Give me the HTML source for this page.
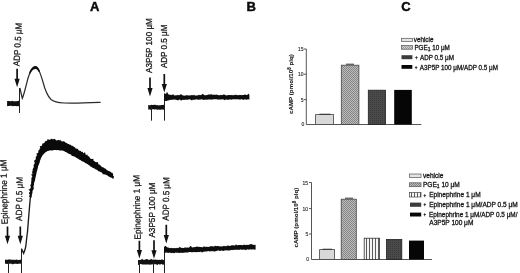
<!DOCTYPE html>
<html><head><meta charset="utf-8">
<style>
html,body{margin:0;padding:0;background:#fff;}
body{width:520px;height:273px;overflow:hidden;}
svg{display:block;}
text{font-family:"Liberation Sans",Arial,sans-serif;}
.lab{font-size:9px;fill:#111;stroke:#111;stroke-width:0.25px;}
.pl{font-size:13px;font-weight:bold;fill:#0a0a0a;stroke:#0a0a0a;stroke-width:0.45px;}
.tk{font-size:5px;fill:#333;stroke:#333;stroke-width:0.15px;}
.lg{font-size:6.3px;fill:#151515;stroke:#151515;stroke-width:0.28px;}
.lg2{font-size:6.55px;fill:#151515;stroke:#151515;stroke-width:0.28px;}
.yl{font-size:6.2px;font-weight:bold;fill:#1a1a1a;stroke:#1a1a1a;stroke-width:0.12px;}
</style></head>
<body>
<svg width="520" height="273" viewBox="0 0 520 273">
<defs>
  <pattern id="xh" width="2" height="2" patternUnits="userSpaceOnUse">
    <rect width="2" height="2" fill="#bcbcbc"/>
    <rect width="1" height="1" fill="#858585"/>
    <rect x="1" y="1" width="1" height="1" fill="#858585"/>
  </pattern>
  <pattern id="xh2" width="2" height="2" patternUnits="userSpaceOnUse">
    <rect width="2" height="2" fill="#d4d4d4"/>
    <rect width="1" height="1" fill="#9a9a9a"/>
    <rect x="1" y="1" width="1" height="1" fill="#9a9a9a"/>
  </pattern>
  <pattern id="vs" width="3" height="4" patternUnits="userSpaceOnUse">
    <rect width="3" height="4" fill="#f4f4f4"/>
    <rect x="0" width="1" height="4" fill="#5a5a5a"/>
  </pattern>
  <pattern id="dk" width="2" height="2" patternUnits="userSpaceOnUse">
    <rect width="2" height="2" fill="#4a4a4a"/>
    <rect width="1" height="1" fill="#3a3a3a"/>
  </pattern>
</defs>

<!-- panel letters -->
<text class="pl" x="89.9" y="10.7">A</text>
<text class="pl" x="246.4" y="10.8">B</text>
<text class="pl" x="401.2" y="10.9">C</text>

<!-- ===== Panel A top ===== -->
<text class="lab" transform="translate(19.6,66.3) rotate(-87.1)" textLength="43.3" lengthAdjust="spacingAndGlyphs">ADP 0.5 μM</text>
<g fill="#111" stroke="none">
  <path d="M16.25 68.8 H17.95 V78.7 H19.70 L17.10 87.3 L14.50 78.7 H16.25 Z"/>
</g>
<path d="M7.1 101.1 L8.14 101.02 L9.18 101.09 L10.22 101.23 L11.27 101.19 L12.31 100.85 L13.35 101.28 L14.39 101.17 L15.43 101.28 L16.48 101.26 L17.52 100.92 L18.56 100.77 L19.6 101.14 L19.6 105.86 L18.56 106.19 L17.52 105.99 L16.48 106.19 L15.43 106.1 L14.39 106.01 L13.35 106.04 L12.31 106.22 L11.27 105.74 L10.22 105.85 L9.18 106.12 L8.14 105.99 L7.1 106.22 Z" fill="#111"/>
<line x1="19.5" y1="88" x2="19.5" y2="113" stroke="#222" stroke-width="1"/>
<path d="M19.9 88 L22.3 98.4 C23.5 96 25 90 26.5 84 C28 77 30 71.5 33 68 C35 66 36.5 66.5 38 68.5 C40 72 41.5 77 43 82 C45 90 47.5 96 51 99.5 C54 102 58 102.6 64 103 C75 103.4 90 102.8 100.6 102.4"
  fill="none" stroke="#2a2a2a" stroke-width="1.2"/>
<path d="M29.2 72.8 C30.4 69 33 66.2 35.5 66.1 C37.4 66.2 38.9 68.5 40 71.6 L38.7 72 C37.7 69.9 36.6 68.9 35.1 69.1 C33.1 69.4 31.2 71.2 30.2 73.8 Z" fill="#111"/>

<!-- ===== Panel A bottom ===== -->
<text class="lab" transform="translate(7.8,224.3) rotate(-91.3)" textLength="64.9" lengthAdjust="spacingAndGlyphs">Epinephrine 1 μM</text>
<text class="lab" transform="translate(21.9,220.9) rotate(-89.1)" textLength="43.9" lengthAdjust="spacingAndGlyphs">ADP 0.5 μM</text>
<g fill="#111">
  <path d="M6.65 226.5 H8.35 V235.7 H10.10 L7.50 244.3 L4.90 235.7 H6.65 Z"/>
  <path d="M19.45 226.5 H21.15 V235.7 H22.90 L20.30 244.3 L17.70 235.7 H19.45 Z"/>
</g>
<path d="M5 259.53 L6.01 259.64 L7.03 259.65 L8.04 259.79 L9.05 259.21 L10.06 259.59 L11.07 259.68 L12.09 259.81 L13.1 259.69 L14.11 259.65 L15.12 259.96 L16.14 259.59 L17.15 259.77 L18.16 260.06 L19.17 259.98 L20.19 259.49 L21.2 260.02 L21.2 264.03 L20.19 263.6 L19.17 263.77 L18.16 263.66 L17.15 264.11 L16.14 263.66 L15.12 263.74 L14.11 263.78 L13.1 264.25 L12.09 264.14 L11.07 263.6 L10.06 263.77 L9.05 263.65 L8.04 263.78 L7.03 264.04 L6.01 263.84 L5 263.86 Z" fill="#111"/>
<line x1="8.5" y1="262" x2="8.5" y2="273" stroke="#222" stroke-width="1"/>
<line x1="21.5" y1="248.7" x2="21.5" y2="273" stroke="#222" stroke-width="1"/>
<path d="M21.5 248.7 L23.6 253.4 C25 250 25.5 248 25.8 246.3 C26.5 240 27 235 27.5 232 C28.3 222 29.2 210 30.4 197"
  fill="none" stroke="#1a1a1a" stroke-width="1.35"/>
<path d="M29.5 196.83 L29.82 197.02 L28.67 195.88 L30.08 195.03 L29.28 193.92 L28.86 192.86 L29.85 191.96 L30.02 190.97 L28.4 189.77 L29.95 188.93 L30.62 188 L30.86 187.01 L30.53 185.96 L30.22 184.91 L31.18 184.01 L31.1 182.98 L31.08 181.96 L31.49 181 L31.24 179.95 L31.5 178.96 L31.34 177.92 L32.05 177 L32.35 176.02 L30.91 174.81 L32.7 174.03 L32.13 172.94 L32.16 171.92 L32.47 170.95 L32.72 169.95 L32.7 168.88 L33.28 167.96 L33.9 167.05 L33.57 165.92 L33.64 164.88 L34.28 163.98 L34.86 163.06 L34.45 161.91 L33.92 160.73 L35.2 159.97 L35.83 159.06 L35.74 157.92 L35.82 156.83 L36.67 156 L36.93 154.97 L36.33 153.38 L38.05 152.89 L38.33 151.71 L38.25 150.49 L39.43 150.01 L39.43 148.85 L40.31 148.18 L39.73 146.32 L41.46 146.12 L42.12 145.16 L42.2 143.79 L43.49 143.34 L44.6 142.77 L44.84 141.58 L45.91 141.04 L47.01 140.63 L47.72 138.9 L48.99 139.74 L50.02 139.86 L50.93 138.91 L52.03 138.75 L53.01 139.61 L54.17 138.84 L55.11 139.36 L55.98 140.3 L56.96 140.58 L58.15 139.84 L59.11 140.38 L60.35 139.75 L61.06 141.08 L62.01 141.54 L63.13 141.36 L64.15 141.59 L65.2 141.92 L65.88 142.95 L67.08 142.92 L67.72 143.91 L68.83 144.05 L69.62 144.76 L70.79 144.8 L71.4 145.83 L72.57 145.87 L73.34 146.61 L74.35 146.92 L75.19 147.59 L75.8 148.66 L77.15 148.57 L77.98 149.29 L78.58 150.35 L79.57 150.82 L80.82 150.88 L81.43 151.94 L82.83 151.78 L83.11 153.33 L85.09 152.28 L85.39 153.84 L85.87 154.97 L87.45 154.57 L87.71 155.96 L88.71 156.36 L89.51 157.02 L89.96 158.16 L90.84 158.71 L91.84 159.1 L93.41 158.72 L93.37 160.51 L94.34 160.95 L95.08 161.69 L95.96 162.23 L97.34 162.07 L98.19 162.64 L98.27 164.29 L99.42 164.45 L100.02 165.37 L100.99 165.79 L101.56 166.74 L102.48 167.23 L103.61 167.41 L104.32 168.18 L105.34 168.49 L106.03 169.27 L106.83 169.9 L107.66 170.49 L108.53 171.01 L109.5 171.37 L110.49 171.71 L111.18 172.6 L112.62 173.07 L113.13 174.18 L113.01 175.78 L113.9 176.11 L113.6 178.7 L112.5 178.44 L111.7 177.64 L110.6 177.46 L109.66 176.97 L108.68 176.56 L107.9 175.74 L106.93 175.3 L105.97 174.83 L104.96 174.47 L103.97 174.14 L102.79 174.14 L102.29 172.89 L101.4 172.36 L100.41 172.02 L99.54 171.46 L98.54 171.14 L97.73 170.47 L96.88 169.86 L95.9 169.5 L95.01 168.99 L94.15 168.33 L93.09 167.97 L92.17 167.42 L91.34 166.71 L90.27 166.38 L89.57 165.48 L88.64 164.92 L87.74 164.33 L86.88 163.67 L85.84 163.28 L84.88 162.79 L84.16 161.95 L83.08 161.71 L82.19 161.16 L81.23 160.72 L80.44 160 L79.4 159.68 L78.54 159.08 L77.65 158.51 L76.69 158.07 L75.86 157.42 L75.03 156.74 L73.96 156.49 L72.98 156.06 L71.77 156.08 L71.27 154.74 L70.29 154.32 L69.22 154.06 L68.33 153.46 L67.42 152.91 L66.55 152.28 L65.48 152.07 L64.43 151.28 L63.25 150.8 L62.01 150.46 L60.98 150.39 L59.9 150.58 L58.97 150.23 L58 150.05 L57.01 150.28 L56 150.05 L55 150.08 L53.85 150.08 L52.72 150.39 L51.57 150.57 L50.39 150.34 L49.25 150.87 L47.98 150.83 L46.91 151.38 L45.89 151.95 L44.38 153.2 L43.61 154.22 L42.59 155.06 L42.27 156.12 L41.61 157.03 L41 157.96 L40.69 159.04 L40.37 160.04 L39.77 160.96 L39.94 162.14 L39.3 163.03 L39.14 164.06 L38.64 165 L38.23 165.97 L37.97 166.98 L37.89 168.03 L37.48 169 L37.33 170.03 L37.05 171.02 L36.64 171.98 L36.42 172.98 L36.45 174.04 L35.96 174.98 L36.02 176.04 L35.51 176.98 L35.51 178.03 L35.08 178.99 L35.17 180.06 L34.75 181.01 L34.45 182 L34.11 182.97 L33.91 183.98 L34.04 185.05 L33.49 185.98 L33.56 187.03 L33.69 188.1 L33.75 189.15 L32.76 189.99 L32.71 191.02 L32.34 191.99 L32.54 193.07 L32.05 194.01 L31.77 194.99 L31.89 196.06 L31.58 197.04 L31.2 197.94 Z" fill="#0a0a0a"/>

<!-- ===== Panel B top ===== -->
<text class="lab" transform="translate(152.2,72.9) rotate(-90)" textLength="54.8" lengthAdjust="spacingAndGlyphs">A3P5P 100 μM</text>
<text class="lab" transform="translate(166.7,68.1) rotate(-90)" textLength="43.5" lengthAdjust="spacingAndGlyphs">ADP 0.5 μM</text>
<g fill="#111">
  <path d="M149.15 77.5 H150.85 V87.9 H152.60 L150.00 96.5 L147.40 87.9 H149.15 Z"/>
  <path d="M163.45 74 H165.15 V83.9 H166.90 L164.30 92.5 L161.70 83.9 H163.45 Z"/>
</g>
<path d="M148.2 105.08 L149.22 105.24 L150.25 105.16 L151.27 104.86 L152.3 105.09 L153.32 105.03 L154.35 104.85 L155.38 104.84 L156.4 105.14 L157.42 105.11 L158.45 105.38 L159.47 105.2 L160.5 105.19 L161.53 105.11 L162.55 104.96 L163.57 104.79 L164.6 105.34 L164.6 109.29 L163.57 109.68 L162.55 109.59 L161.53 109.56 L160.5 109.65 L159.47 109.68 L158.45 109.61 L157.42 109.68 L156.4 109.62 L155.38 109.22 L154.35 109.61 L153.32 109.21 L152.3 109.28 L151.27 109.72 L150.25 109.77 L149.22 109.21 L148.2 109.69 Z" fill="#111"/>
<line x1="151.5" y1="107" x2="151.5" y2="120.7" stroke="#222" stroke-width="1"/>
<line x1="164.5" y1="95" x2="164.5" y2="120.7" stroke="#222" stroke-width="1"/>
<path d="M164 93.32 L165 93.57 L166 93.89 L167 91.72 L168 93.84 L169 94.7 L170 94.81 L171 94.85 L172 95.18 L173 94.11 L174 95.35 L175 95.41 L176 95.21 L177 95.35 L178 94.95 L179 95.19 L180 94.95 L181 93.83 L182 95.34 L183 95.17 L184 95.66 L185 95.58 L186 95.39 L187 95.05 L188 95.44 L189 95.4 L190 95.31 L191 95.49 L192 94.86 L193 95.43 L194 94.76 L195 95.47 L196 95.5 L197 95.49 L198 95.34 L199 94.8 L200 95.19 L201 95.09 L202 94.45 L203 93.65 L204 94.97 L205 95.31 L206 95.27 L207 95.1 L208 94.75 L209 94.16 L210 94.69 L211 94.02 L212 94.64 L213 94.69 L214 94.54 L215 94.95 L216 94.59 L217 94.83 L218 94.98 L219 95.32 L220 95.14 L221 94.81 L222 95.25 L223 94.84 L224 94.22 L225 94.9 L226 95.21 L227 95.4 L228 95.03 L229 94.89 L230 95.04 L231 95.22 L232 94.83 L233 95.39 L234 94.83 L235 95.17 L236 94.6 L237 95.34 L238 95.01 L239 95.18 L240 94.72 L241.04 95.16 L242.09 95.06 L243.13 95.11 L244.18 94.66 L245.22 94.48 L246.27 95.12 L247.31 94.91 L248.36 93.53 L249.4 95.06 L249.4 99.7 L248.36 99.3 L247.31 99.42 L246.27 99.7 L245.22 99.24 L244.18 99.54 L243.13 99.97 L242.09 99.35 L241.04 99.13 L240 99.66 L239 99.32 L238 99.57 L237 99.11 L236 99.56 L235 99.28 L234 99.2 L233 99.25 L232 99.52 L231 99.76 L230 99.28 L229 99.71 L228 99.75 L227 99.78 L226 99.18 L225 100.3 L224 99.67 L223 99.17 L222 99.56 L221 99.26 L220 99.79 L219 99.33 L218 99.72 L217 99.27 L216 99.24 L215 99.36 L214 99.31 L213 99.18 L212 99.69 L211 99.57 L210 99.39 L209 99.42 L208 99.47 L207 99.72 L206 99.76 L205 99.38 L204 99.96 L203 99.7 L202 99.24 L201 99.44 L200 99.43 L199 99.75 L198 99.74 L197 99.36 L196 99.59 L195 99.43 L194 99.93 L193 99.6 L192 100.45 L191 99.93 L190 99.3 L189 99.53 L188 99.5 L187 100 L186 99.58 L185 99.87 L184 100 L183 99.78 L182 99.95 L181 100.66 L180 99.54 L179 99.69 L178 100.45 L177 100.05 L176 99.65 L175 99.61 L174 99.8 L173 99.58 L172 99.83 L171 99.93 L170 99.76 L169 100.46 L168 100.23 L167 100.9 L166 101.02 L165 100.68 L164 100.88 Z" fill="#0d0d0d"/>

<!-- ===== Panel B bottom ===== -->
<text class="lab" transform="translate(140.8,239.6) rotate(-91.2)" textLength="64.8" lengthAdjust="spacingAndGlyphs">Epinephrine 1 μM</text>
<text class="lab" transform="translate(154.7,237.6) rotate(-90)" textLength="55" lengthAdjust="spacingAndGlyphs">A3P5P 100 μM</text>
<text class="lab" transform="translate(168.8,220.7) rotate(-89.2)" textLength="43.4" lengthAdjust="spacingAndGlyphs">ADP 0.5 μM</text>
<g fill="#111">
  <path d="M138.55 240.8 H140.25 V249.9 H142.00 L139.40 258.5 L136.80 249.9 H138.55 Z"/>
  <path d="M153.15 240.2 H154.85 V250.2 H156.60 L154.00 258.8 L151.40 250.2 H153.15 Z"/>
  <path d="M165.45 224.8 H167.15 V235.0 H168.90 L166.30 243.6 L163.70 235.0 H165.45 Z"/>
</g>
<path d="M138 259.99 L139.02 260.04 L140.03 259.99 L141.05 259.77 L142.06 258.83 L143.08 259.79 L144.09 259.66 L145.11 259.84 L146.12 258.88 L147.14 259.1 L148.15 259.65 L149.17 259.87 L150.18 259.76 L151.2 258.87 L152.22 259.69 L153.23 259.54 L154.25 259.78 L155.26 259.59 L156.28 259.81 L157.29 259.73 L158.31 259.9 L159.32 259.83 L160.34 259.91 L161.35 259.47 L162.37 259.58 L163.38 259.88 L164.4 259.71 L164.4 264.28 L163.38 264.64 L162.37 264.39 L161.35 264.03 L160.34 264.6 L159.32 264.53 L158.31 264.04 L157.29 265.17 L156.28 264.29 L155.26 264.29 L154.25 264.18 L153.23 264.52 L152.22 264.25 L151.2 264.6 L150.18 264.81 L149.17 264.5 L148.15 264.44 L147.14 264.45 L146.12 264.46 L145.11 264.41 L144.09 264.59 L143.08 264.43 L142.06 264.6 L141.05 264.02 L140.03 264.05 L139.02 264.58 L138 265.16 Z" fill="#111"/>
<line x1="139.5" y1="262" x2="139.5" y2="273" stroke="#222" stroke-width="1"/>
<line x1="153.5" y1="262" x2="153.5" y2="273" stroke="#222" stroke-width="1"/>
<line x1="164.5" y1="247" x2="164.5" y2="273" stroke="#222" stroke-width="1"/>
<path d="M164 247.07 L165.5 245.65 L167 247.29 L168 247.54 L169 247.73 L170 248.31 L171 247.85 L172 248.29 L173 248.09 L174 248.29 L175 248.02 L176 248.3 L177 247.72 L178 248.15 L179 247.53 L180 246.71 L181 247.88 L182 247.66 L183 247.98 L184 247.89 L185 247.37 L186 247.83 L187 247.61 L188 247.57 L189 247.63 L190 246.25 L191 246.07 L192 247.58 L193 247.2 L194 247.33 L195 247.07 L196 246.98 L197 246.24 L198 247.05 L199 246.81 L200 247.02 L201 246.98 L202 247.21 L203 247.21 L204 245.96 L205 247.16 L206 246.58 L207 247.1 L208 246.81 L209 246.96 L210 246.25 L211 246.35 L212 246.18 L213 246.16 L214 246.73 L215 245.45 L216 246.19 L217 246.03 L218 246.04 L219 246.23 L220 246.41 L221 246.13 L222 246.44 L223 246.3 L224 245.85 L225 246.19 L226 246.18 L227 245.73 L228 245.5 L229 245.67 L230 245.99 L231 245.54 L232 245.36 L233 245.16 L234 245.59 L235 245.48 L236 244.15 L237 245.52 L238 244.91 L239 245.11 L240 245.08 L241 245.05 L242 245.08 L243 245.32 L244 244.5 L245 245.05 L246 244.98 L247 244.75 L248 244.98 L249 244.71 L250 244.3 L251.12 244.03 L252.24 244.39 L253.36 244.77 L254.48 245.09 L255.6 244.69 L255.6 249.62 L254.48 249.67 L253.36 249.29 L252.24 249.49 L251.12 249.55 L250 249.32 L249 249.66 L248 249.43 L247 249.3 L246 250.23 L245 249.82 L244 249.52 L243 249.72 L242 249.81 L241 249.42 L240 249.48 L239 249.94 L238 249.7 L237 249.73 L236 249.84 L235 249.78 L234 250.04 L233 249.75 L232 250.33 L231 249.85 L230 250.47 L229 250.55 L228 250.38 L227 250.29 L226 250.41 L225 250.17 L224 250.8 L223 250.92 L222 250.56 L221 250.55 L220 251.18 L219 250.59 L218 250.57 L217 250.75 L216 251.18 L215 251.22 L214 251.67 L213 250.82 L212 251.44 L211 250.9 L210 251.47 L209 251.2 L208 251.05 L207 251.54 L206 251.58 L205 251.58 L204 251.85 L203 251.73 L202 252.67 L201 251.57 L200 251.91 L199 252.05 L198 252.09 L197 252.24 L196 252.08 L195 252.29 L194 251.93 L193 251.98 L192 252.46 L191 252.02 L190 251.91 L189 252.11 L188 252.47 L187 252.45 L186 252.45 L185 252.39 L184 252.83 L183 252.8 L182 253.02 L181 252.52 L180 252.92 L179 252.96 L178 252.48 L177 253.07 L176 252.59 L175 252.82 L174 253.17 L173 252.95 L172 252.74 L171 253.26 L170 252.61 L169 252.64 L168 252.88 L167 252.56 L166 252.62 L165 253.03 L164 252.75 Z" fill="#0d0d0d"/>

<!-- ===== Panel C top chart ===== -->
<text class="yl" transform="translate(293.0,114.0) rotate(-90)">cAMP (pmol/10<tspan dy="-2" font-size="4.5">8</tspan><tspan dy="2"> plq)</tspan></text>
<g stroke="#555" stroke-width="1" fill="none">
  <path d="M306.3 49 V124.5 H421.3"/>
  <path d="M303.8 49 H306.3 M303.8 74.2 H306.3 M303.8 99.6 H306.3"/>
</g>
<g class="tk">
  <text class="tk" x="298" y="51">15</text>
  <text class="tk" x="298" y="76.2">10</text>
  <text class="tk" x="300.7" y="101.6">5</text>
  <text class="tk" x="301.5" y="126.4">0</text>
</g>
<rect x="315.6" y="114.6" width="18" height="9.9" fill="#d8d8d8" stroke="#444" stroke-width="0.8"/>
<line x1="319.5" y1="114.2" x2="330.5" y2="114.2" stroke="#222" stroke-width="0.8"/>
<rect x="341.3" y="65.2" width="17.6" height="59.3" fill="url(#xh)" stroke="#444" stroke-width="0.8"/>
<line x1="346" y1="64.2" x2="354" y2="64.2" stroke="#333" stroke-width="1"/>
<rect x="368.3" y="90.2" width="17.2" height="34.3" fill="url(#dk)" stroke="#222" stroke-width="0.8"/>
<rect x="394.2" y="89.9" width="17.6" height="34.6" fill="#060606"/>

<!-- legend top -->
<rect x="401.6" y="38.3" width="10.8" height="3.2" fill="#e4e4e4" stroke="#555" stroke-width="0.7"/>
<rect x="401.6" y="45.6" width="10.8" height="3.6" fill="url(#xh2)" stroke="#555" stroke-width="0.7"/>
<rect x="401.5" y="55.2" width="10.9" height="4" fill="#3c3c3c"/>
<rect x="401.5" y="65" width="10.8" height="3.8" fill="#060606"/>
<text class="lg" x="413.8" y="41.9">vehicle</text>
<text class="lg" x="414.4" y="49.8">PGE<tspan font-size="5" dy="1.6">1</tspan><tspan dy="-1.6"> 10 μM</tspan></text>
<text class="lg" x="414.9" y="59.9"><tspan font-size="4.6" dy="-0.5">+</tspan><tspan dy="0.5" dx="1.05"> ADP 0.5 μM</tspan></text>
<text class="lg" x="414.7" y="69.5"><tspan font-size="4.6" dy="-0.5">+</tspan><tspan dy="0.5" dx="1.05"> A3P5P 100 μM/ADP 0.5 μM</tspan></text>

<!-- ===== Panel C bottom chart ===== -->
<text class="yl" transform="translate(297.7,247.5) rotate(-90)">cAMP (pmol/10<tspan dy="-2" font-size="4.5">8</tspan><tspan dy="2"> plq)</tspan></text>
<g stroke="#555" stroke-width="1" fill="none">
  <path d="M311.5 182.5 V259.5 H432"/>
  <path d="M309 182.5 H311.5 M309 208.6 H311.5 M309 234 H311.5"/>
</g>
<text class="tk" x="302.6" y="184.7">15</text>
<text class="tk" x="302.6" y="210.6">10</text>
<text class="tk" x="305.4" y="236">5</text>
<text class="tk" x="306.2" y="261">0</text>
<rect x="319.6" y="249.6" width="15" height="9.9" fill="#d8d8d8" stroke="#444" stroke-width="0.8"/>
<line x1="322.5" y1="249.2" x2="332" y2="249.2" stroke="#222" stroke-width="0.8"/>
<rect x="341.2" y="199.2" width="15.1" height="60.3" fill="url(#xh)" stroke="#444" stroke-width="0.8"/>
<line x1="345" y1="198.2" x2="353" y2="198.2" stroke="#333" stroke-width="1"/>
<rect x="364.2" y="238.2" width="15.4" height="21.3" fill="url(#vs)" stroke="#333" stroke-width="0.8"/>
<rect x="386.4" y="239.4" width="15.4" height="20.1" fill="url(#dk)" stroke="#222" stroke-width="0.8"/>
<rect x="409" y="240.6" width="15" height="18.9" fill="#060606"/>

<!-- legend bottom -->
<rect x="409.6" y="174" width="11.4" height="3.4" fill="#e4e4e4" stroke="#555" stroke-width="0.7"/>
<rect x="409.6" y="182.8" width="11.4" height="3.9" fill="url(#xh)" stroke="#555" stroke-width="0.7"/>
<rect x="409.6" y="192.6" width="11.4" height="4.4" fill="url(#vs)" stroke="#444" stroke-width="0.7"/>
<rect x="410" y="202.6" width="11.2" height="4.2" fill="#3c3c3c"/>
<rect x="410" y="212.6" width="11.2" height="3.9" fill="#060606"/>
<text class="lg2" x="423" y="177.6">vehicle</text>
<text class="lg2" x="423" y="186.8">PGE<tspan font-size="5" dy="1.6">1</tspan><tspan dy="-1.6"> 10 μM</tspan></text>
<text class="lg2" x="423.6" y="197.2"><tspan font-size="4.6" dy="-0.5">+</tspan><tspan dy="0.5" dx="1.05"> Epinephrine 1 μM</tspan></text>
<text class="lg2" x="423.6" y="206.8"><tspan font-size="4.6" dy="-0.5">+</tspan><tspan dy="0.5" dx="1.05"> Epinephrine 1 μM/ADP 0.5 μM</tspan></text>
<text class="lg2" x="423.6" y="216.6" textLength="93.9" lengthAdjust="spacingAndGlyphs"><tspan font-size="4.6" dy="-0.5">+</tspan><tspan dy="0.5" dx="1.05"> Epinephrine 1 μM/ADP 0.5 μM/</tspan></text>
<text class="lg2" x="429.3" y="224.8">A3P5P 100 μM</text>
</svg>
</body></html>
